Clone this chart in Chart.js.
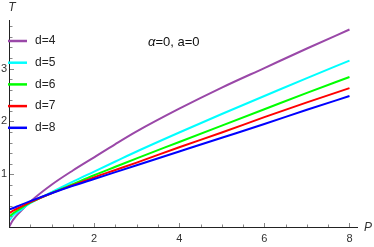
<!DOCTYPE html>
<html>
<head>
<meta charset="utf-8">
<script src="https://cdn.jsdelivr.net/npm/chart.js@4/dist/chart.umd.min.js"></script>
<style>
  html, body { margin: 0; padding: 0; background: #fff; }
  #wrap { width: 374px; height: 247px; position: relative; }
</style>
</head>
<body>
<div id="wrap"><canvas id="chart"></canvas></div>
<script>
// values
const pValues = [0, 0.1, 0.25, 0.5, 1, 1.5, 2, 2.5, 3, 4, 5, 6, 7, 8]
const seriesLabels = ['d=4', 'd=5', 'd=6', 'd=7', 'd=8']
const seriesColors = ['#9a48a8', '#00ffff', '#00ff00', '#ff0000', '#0000ff']
const tD4 = [0.0, 0.14, 0.28, 0.48, 0.80, 1.07, 1.32, 1.57, 1.81, 2.24, 2.64, 3.01, 3.38, 3.74]
const tD5 = [0.12, 0.22, 0.31, 0.45, 0.66, 0.86, 1.05, 1.24, 1.43, 1.79, 2.14, 2.48, 2.82, 3.15]
const tD6 = [0.19, 0.26, 0.34, 0.46, 0.64, 0.81, 0.98, 1.14, 1.30, 1.61, 1.92, 2.23, 2.54, 2.84]
const tD7 = [0.26, 0.31, 0.37, 0.47, 0.64, 0.79, 0.94, 1.08, 1.22, 1.51, 1.79, 2.08, 2.36, 2.63]
const tD8 = [0.33, 0.36, 0.41, 0.49, 0.64, 0.78, 0.91, 1.04, 1.17, 1.43, 1.69, 1.95, 2.22, 2.48]
const xTickLabels = [2, 4, 6, 8]
const yTickLabels = [1, 2, 3]
const chartTitle = 'α=0, a=0'

const allSeries = [tD4, tD5, tD6, tD7, tD8]

// Mathematica-style axes, ticks, legend and title drawn over the chart scales
const axesPlugin = {
  id: 'mmaAxes',
  afterDatasetsDraw(chart) {
    const { ctx } = chart
    const xs = chart.scales.x
    const ys = chart.scales.y
    const x0 = xs.getPixelForValue(0)
    const y0 = ys.getPixelForValue(0)
    ctx.save()

    // axis lines
    ctx.strokeStyle = '#222'
    ctx.lineWidth = 1
    ctx.beginPath()
    ctx.moveTo(xs.left, y0 + 0.5)
    ctx.lineTo(xs.right, y0 + 0.5)
    ctx.moveTo(x0 + 0.5, ys.top)
    ctx.lineTo(x0 + 0.5, ys.bottom)
    ctx.stroke()

    // x ticks: minor every 0.5, major every 2
    ctx.strokeStyle = '#888'
    ctx.beginPath()
    for (let v = 0.5; v <= xs.max + 1e-9; v += 0.5) {
      const px = Math.round(xs.getPixelForValue(v)) + 0.5
      const len = v % 2 === 0 ? 4 : 2.5
      ctx.moveTo(px, y0)
      ctx.lineTo(px, y0 - len)
    }
    // y ticks: minor every 0.2, major every 1
    for (let i = 1; i * 0.2 <= ys.max + 1e-9; i++) {
      const v = i * 0.2
      const py = Math.round(ys.getPixelForValue(v)) + 0.5
      const len = i % 5 === 0 ? 4 : 2.5
      ctx.moveTo(x0 + 1, py)
      ctx.lineTo(x0 + 1 + len, py)
    }
    ctx.stroke()

    // tick labels
    ctx.fillStyle = '#333'
    ctx.font = '11px "Liberation Sans", Arial, sans-serif'
    ctx.textAlign = 'center'
    ctx.textBaseline = 'middle'
    xTickLabels.forEach(v => {
      ctx.fillText(String(v), xs.getPixelForValue(v), y0 + 12)
    })
    ctx.textAlign = 'right'
    yTickLabels.forEach(v => {
      ctx.fillText(String(v), x0 - 2, ys.getPixelForValue(v))
    })

    // axis names
    ctx.font = 'italic 12px "Liberation Sans", Arial, sans-serif'
    ctx.textAlign = 'center'
    ctx.fillText('T', x0 + 3, ys.top - 12)
    ctx.textAlign = 'left'
    ctx.fillText('P', xs.right + 6, y0 + 1)

    // title
    ctx.fillStyle = '#111'
    ctx.textAlign = 'left'
    const tx = 148
    const ty = 42
    ctx.font = 'italic 13px "Liberation Sans", Arial, sans-serif'
    ctx.fillText('α', tx, ty)
    const aw = ctx.measureText('α').width
    ctx.font = '13px "Liberation Sans", Arial, sans-serif'
    ctx.fillText(chartTitle.slice(1), tx + aw, ty)

    // legend
    ctx.font = '12px "Liberation Sans", Arial, sans-serif'
    ctx.fillStyle = '#222'
    chart.data.datasets.forEach((ds, i) => {
      const ly = 41 + i * 21.7
      ctx.strokeStyle = ds.borderColor
      ctx.lineWidth = 2.5
      ctx.beginPath()
      ctx.moveTo(8, ly)
      ctx.lineTo(27, ly)
      ctx.stroke()
      ctx.fillText(ds.label, 35, ly)
    })
    ctx.restore()
  }
}

new Chart(document.getElementById('chart'), {
  type: 'line',
  data: {
    datasets: allSeries.map((vals, i) => ({
      label: seriesLabels[i],
      data: pValues.map((p, j) => ({ x: p, y: vals[j] })),
      borderColor: seriesColors[i],
      borderWidth: 2,
      pointRadius: 0,
      fill: false,
      cubicInterpolationMode: 'monotone',
      order: allSeries.length - i
    }))
  },
  options: {
    responsive: true,
    maintainAspectRatio: false,
    animation: false,
    layout: { padding: { left: 9, right: 16, top: 20, bottom: 20 } },
    plugins: { legend: { display: false }, tooltip: { enabled: false } },
    scales: {
      x: { type: 'linear', min: 0, max: 8.2, display: false },
      y: { type: 'linear', min: 0, max: 3.92, display: false }
    }
  },
  plugins: [axesPlugin]
})
</script>
</body>
</html>
